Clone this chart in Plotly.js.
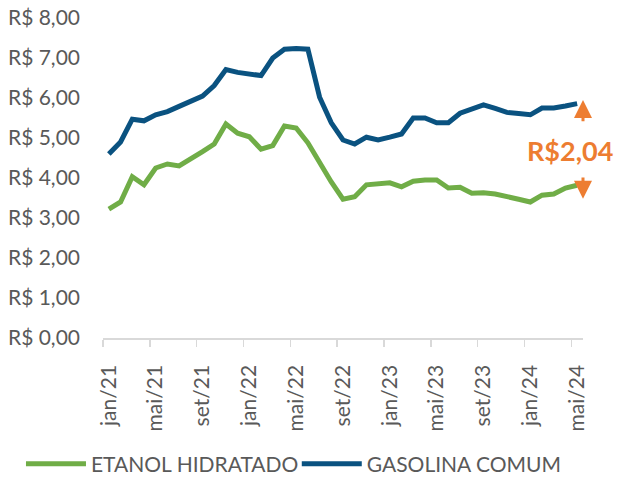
<!DOCTYPE html>
<html>
<head>
<meta charset="utf-8">
<script src="https://cdn.plot.ly/plotly-3.0.1.min.js"></script>
<style>html,body{margin:0;padding:0;background:#fff;}#chart{width:617px;height:478px;}</style>
</head>
<body>
<div id="chart"></div>
<script>
// Monthly, jan/21 .. mai/24
const months = ["jan/21","fev/21","mar/21","abr/21","mai/21","jun/21","jul/21","ago/21","set/21","out/21","nov/21","dez/21",
"jan/22","fev/22","mar/22","abr/22","mai/22","jun/22","jul/22","ago/22","set/22","out/22","nov/22","dez/22",
"jan/23","fev/23","mar/23","abr/23","mai/23","jun/23","jul/23","ago/23","set/23","out/23","nov/23","dez/23",
"jan/24","fev/24","mar/24","abr/24","mai/24"];
const etanol = [3.22,3.40,4.03,3.83,4.25,4.35,4.30,4.47,4.66,4.85,5.35,5.12,5.03,4.72,4.81,5.30,5.25,4.88,4.37,3.90,3.47,3.53,3.83,3.85,3.88,3.78,3.92,3.95,3.95,3.75,3.77,3.62,3.63,3.60,3.55,3.47,3.40,3.57,3.60,3.75,3.82];
const gasolina = [4.60,4.90,5.47,5.43,5.58,5.66,5.79,5.92,6.05,6.31,6.71,6.64,6.60,6.56,7.00,7.22,7.24,7.22,6.02,5.38,4.95,4.85,5.02,4.95,5.02,5.10,5.50,5.50,5.38,5.38,5.62,5.72,5.83,5.74,5.64,5.61,5.58,5.75,5.75,5.80,5.86];
const yTicks = [0,1,2,3,4,5,6,7,8];
const yTickText = ["R$ 0,00","R$ 1,00","R$ 2,00","R$ 3,00","R$ 4,00","R$ 5,00","R$ 6,00","R$ 7,00","R$ 8,00"];
const diffLabel = "R$2,04";

const idx = months.map((m,i)=>i);
const xTickVals = idx.filter(i => i % 4 === 0);
const xTickText = xTickVals.map(i => months[i]);
const last = months.length - 1;

const FONT = "Lato, 'Open Sans', sans-serif";
const GREY = "#595959";
const ORANGE = "#ED7D31";

const traces = [
  {x: idx, y: etanol, type: "scatter", mode: "lines", name: "ETANOL HIDRATADO", legend: "legend",
   line: {color: "#70AD47", width: 5, shape: "linear"}, hoverinfo: "skip"},
  {x: idx, y: gasolina, type: "scatter", mode: "lines", name: "GASOLINA COMUM", legend: "legend2",
   line: {color: "#0A5280", width: 5, shape: "linear"}, hoverinfo: "skip"}
];

const legendBase = {orientation: "h", xref: "container", yref: "container", xanchor: "left", y: 0.029, yanchor: "middle",
           font: {family: FONT, size: 21, color: GREY}, itemwidth: 60,
           bgcolor: "rgba(0,0,0,0)", borderwidth: 0};

const layout = {
  width: 617, height: 478,
  margin: {l: 103, r: 34, t: 18, b: 140},
  paper_bgcolor: "#fff", plot_bgcolor: "#fff",
  font: {family: FONT, size: 21, color: GREY},
  showlegend: true,
  legend: Object.assign({}, legendBase, {x: 0.034}),
  legend2: Object.assign({}, legendBase, {x: 0.481}),
  xaxis: {range: [-0.5, last + 0.5], tickvals: xTickVals, ticktext: xTickText,
          tickangle: -90, ticks: "", showgrid: false, zeroline: false, automargin: false,
          showline: true, linecolor: "#D9D9D9", linewidth: 1.5,
          ticklabelstandoff: 17,
          minor: {tick0: -0.5, dtick: 4, ticks: "outside", ticklen: 7, tickcolor: "#D9D9D9", tickwidth: 1.5, showgrid: false},
          tickfont: {family: FONT, size: 21, color: GREY}, fixedrange: true},
  yaxis: {range: [0, 8], tickvals: yTicks, ticktext: yTickText, ticks: "", automargin: false,
          showgrid: false, zeroline: false, showline: false,
          ticklabelstandoff: 22,
          tickfont: {family: FONT, size: 21, color: GREY}, fixedrange: true},
  annotations: [
    {x: last + 0.5, y: 5.95, ax: last + 0.5, ay: 5.38, xref: "x", yref: "y", axref: "x", ayref: "y",
     text: "", showarrow: true, arrowhead: 2, arrowsize: 1.2, arrowwidth: 3, arrowcolor: ORANGE},
    {x: last + 0.5, y: 3.48, ax: last + 0.5, ay: 4.05, xref: "x", yref: "y", axref: "x", ayref: "y",
     text: "", showarrow: true, arrowhead: 2, arrowsize: 1.2, arrowwidth: 3, arrowcolor: ORANGE},
    {x: 39.4, y: 4.68, xref: "x", yref: "y", text: "<b>" + diffLabel + "</b>", showarrow: false,
     font: {family: FONT, size: 27, color: ORANGE}, xanchor: "center", yanchor: "middle"}
  ]
};

Plotly.newPlot("chart", traces, layout, {staticPlot: true, displayModeBar: false});
</script>
</body>
</html>
